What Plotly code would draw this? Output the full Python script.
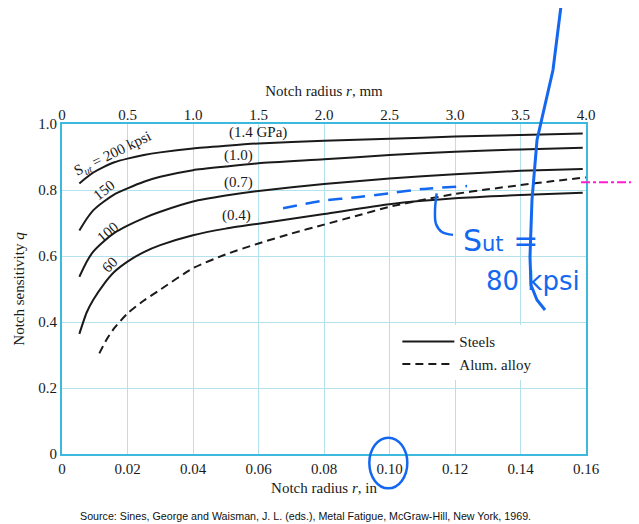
import plotly.graph_objects as go

# ---------------- data ----------------
x_steel = [0.0053, 0.0075, 0.0096, 0.0128, 0.016, 0.02, 0.025, 0.03, 0.04, 0.05, 0.06, 0.08, 0.10, 0.12, 0.14, 0.159]
q_200 = [0.820, 0.838, 0.853, 0.870, 0.884, 0.895, 0.906, 0.914, 0.926, 0.934, 0.941, 0.949, 0.955, 0.962, 0.967, 0.971]
q_150 = [0.677, 0.712, 0.739, 0.765, 0.787, 0.805, 0.825, 0.840, 0.860, 0.871, 0.881, 0.893, 0.906, 0.916, 0.923, 0.928]
q_100 = [0.537, 0.582, 0.614, 0.645, 0.670, 0.692, 0.715, 0.734, 0.765, 0.783, 0.797, 0.818, 0.835, 0.848, 0.858, 0.864]
q_60 = [0.364, 0.428, 0.468, 0.515, 0.552, 0.583, 0.612, 0.633, 0.663, 0.683, 0.698, 0.727, 0.757, 0.775, 0.785, 0.792]

x_alum = [0.0114, 0.0135, 0.016, 0.02, 0.025, 0.03, 0.04, 0.05, 0.06, 0.07, 0.08, 0.09, 0.10, 0.11, 0.12, 0.13, 0.14, 0.15, 0.16]
q_alum = [0.305, 0.345, 0.382, 0.426, 0.465, 0.498, 0.563, 0.605, 0.638, 0.668, 0.695, 0.722, 0.749, 0.770, 0.788, 0.802, 0.815, 0.827, 0.838]

steel_labels = ["S<sub><i>ut</i></sub> = 200 kpsi", "150", "100", "60"]
steel_label_x = [0.0156, 0.0129, 0.0139, 0.0144]
steel_label_q = [0.909, 0.799, 0.674, 0.574]
steel_label_angle = [-26, -38, -40, -45]

gpa_labels = ["(1.4 GPa)", "(1.0)", "(0.7)", "(0.4)"]
gpa_label_x = [0.0599, 0.0538, 0.0538, 0.0533]
gpa_label_q = [0.973, 0.904, 0.823, 0.722]

x_ticks_in = [0, 0.02, 0.04, 0.06, 0.08, 0.10, 0.12, 0.14, 0.16]
x_ticktext_in = ["0", "0.02", "0.04", "0.06", "0.08", "0.10", "0.12", "0.14", "0.16"]
x_ticks_mm = [0, 0.5, 1.0, 1.5, 2.0, 2.5, 3.0, 3.5, 4.0]
x_ticktext_mm = ["0", "0.5", "1.0", "1.5", "2.0", "2.5", "3.0", "3.5", "4.0"]
y_ticks = [0, 0.2, 0.4, 0.6, 0.8, 1.0]
y_ticktext = ["0", "0.2", "0.4", "0.6", "0.8", "1.0"]

# hand-drawn annotations (blue ink)
hand_dash_x = [0.0675, 0.0727, 0.08, 0.09, 0.10, 0.11, 0.1237]
hand_dash_q = [0.745, 0.755, 0.768, 0.778, 0.790, 0.803, 0.812]
bracket_x = [0.1144, 0.1139, 0.1142, 0.1160, 0.1194]
bracket_q = [0.790, 0.739, 0.697, 0.673, 0.664]
stroke_px = [0.9523, 0.9370, 0.9065, 0.8969, 0.8931, 0.8950, 0.9065, 0.9218]
stroke_py = [1.3576, 1.1636, 0.9515, 0.7697, 0.5970, 0.5121, 0.4667, 0.4364]

SERIF = "Liberation Serif"
BLACK = "#1a1a1a"
GRID = "#b5e1ec"
BORDER = "#3cb9dc"
INK = "#1468f0"
FS = 15

fig = go.Figure()

curves = [q_200, q_150, q_100, q_60]
for i, q in enumerate(curves):
    fig.add_trace(go.Scatter(
        x=x_steel, y=q, mode="lines",
        line=dict(color=BLACK, width=2, shape="spline", smoothing=0.6),
        name="Steels", legendgroup="steel", showlegend=(i == 0), hoverinfo="skip"))

fig.add_trace(go.Scatter(
    x=x_alum, y=q_alum, mode="lines",
    line=dict(color=BLACK, width=2, dash="8px,5px", shape="spline", smoothing=0.6),
    name="Alum. alloy", showlegend=True, hoverinfo="skip"))

# hand-drawn blue dashed line and bracket
fig.add_trace(go.Scatter(
    x=hand_dash_x, y=hand_dash_q, mode="lines",
    line=dict(color=INK, width=2.5, dash="14px,9px", shape="spline", smoothing=0.6),
    showlegend=False, hoverinfo="skip"))
fig.add_trace(go.Scatter(
    x=bracket_x, y=bracket_q, mode="lines",
    line=dict(color=INK, width=2.5, shape="spline"),
    showlegend=False, hoverinfo="skip"))

# invisible trace for top mm axis
fig.add_trace(go.Scatter(x=[0, 4.0], y=[None, None], xaxis="x2", mode="lines",
                         showlegend=False, hoverinfo="skip"))

annotations = []
for t, x, q, a in zip(steel_labels, steel_label_x, steel_label_q, steel_label_angle):
    annotations.append(dict(x=x, y=q, xref="x", yref="y", text=t, showarrow=False,
                            xanchor="center", yanchor="middle",
                            textangle=a, font=dict(family=SERIF, size=FS, color=BLACK)))
for t, x, q in zip(gpa_labels, gpa_label_x, gpa_label_q):
    annotations.append(dict(x=x, y=q, xref="x", yref="y", text=t, showarrow=False,
                            xanchor="center", yanchor="middle",
                            font=dict(family=SERIF, size=FS, color=BLACK)))

annotations.append(dict(
    x=0.464, y=-0.188, xref="paper", yref="paper", showarrow=False,
    xanchor="center", yanchor="middle",
    text="Source: Sines, George and Waisman, J. L. (eds.), Metal Fatigue, McGraw-Hill, New York, 1969.",
    font=dict(family="Liberation Sans", size=10.7, color="#111111")))

annotations.append(dict(x=0.836, y=0.648, xref="paper", yref="paper", showarrow=False,
                        xanchor="center", yanchor="middle",
                        text="S<span style='font-size:21px'>ut</span> =",
                        font=dict(family="DejaVu Sans", size=30, color=INK)))
annotations.append(dict(x=0.899, y=0.524, xref="paper", yref="paper", showarrow=False,
                        xanchor="center", yanchor="middle",
                        text="80 kpsi", font=dict(family="DejaVu Sans", size=26, color=INK)))

path = "M " + " L ".join(f"{x},{y}" for x, y in zip(stroke_px, stroke_py))
shapes = [
    dict(type="path", xref="paper", yref="paper", path=path,
         line=dict(color=INK, width=3)),
    dict(type="circle", xref="paper", yref="paper", x0=0.5865, x1=0.659, y0=-0.104, y1=0.0494,
         line=dict(color=INK, width=2.5)),
    dict(type="line", xref="paper", yref="paper", x0=0.9905, x1=1.10, y0=0.8233, y1=0.8233,
         line=dict(color="#ff1ccf", width=2, dash="dashdot")),
]

# the page body adds an 8px offset, so margins are shifted to keep the plot area in place
fig.update_layout(
    width=639, height=524,
    margin=dict(l=54, r=61, t=116, b=78, autoexpand=False),
    paper_bgcolor="white", plot_bgcolor="white",
    font=dict(family=SERIF, size=FS, color=BLACK),
    xaxis=dict(range=[0, 0.16], tickvals=x_ticks_in, ticktext=x_ticktext_in,
               showgrid=True, gridcolor=GRID, gridwidth=1, zeroline=False, automargin=False,
               showline=True, linecolor=BORDER, linewidth=2, mirror=True, ticks="",
               tickfont=dict(family=SERIF, size=FS),
               title=dict(text="Notch radius <i>r</i>, in", standoff=6,
                          font=dict(family=SERIF, size=FS))),
    xaxis2=dict(range=[0, 4.0], tickvals=x_ticks_mm, ticktext=x_ticktext_mm,
                overlaying="x", side="top", showgrid=False, zeroline=False, automargin=False,
                showline=False, ticks="", tickfont=dict(family=SERIF, size=FS),
                title=dict(text="Notch radius <i>r</i>, mm", standoff=6,
                           font=dict(family=SERIF, size=FS))),
    yaxis=dict(range=[0, 1.0], tickvals=y_ticks, ticktext=y_ticktext,
               showgrid=True, gridcolor=GRID, gridwidth=1, zeroline=False, automargin=False,
               showline=True, linecolor=BORDER, linewidth=2, mirror=True, ticks="",
               tickfont=dict(family=SERIF, size=FS),
               title=dict(text="Notch sensitivity <i>q</i>", standoff=10,
                          font=dict(family=SERIF, size=FS))),
    legend=dict(x=0.64, y=0.39, xanchor="left", yanchor="top",
                bgcolor="white", borderwidth=0, font=dict(family=SERIF, size=FS),
                tracegroupgap=0, itemwidth=52),
    annotations=annotations,
    shapes=shapes,
)

fig.write_html("out.html")
